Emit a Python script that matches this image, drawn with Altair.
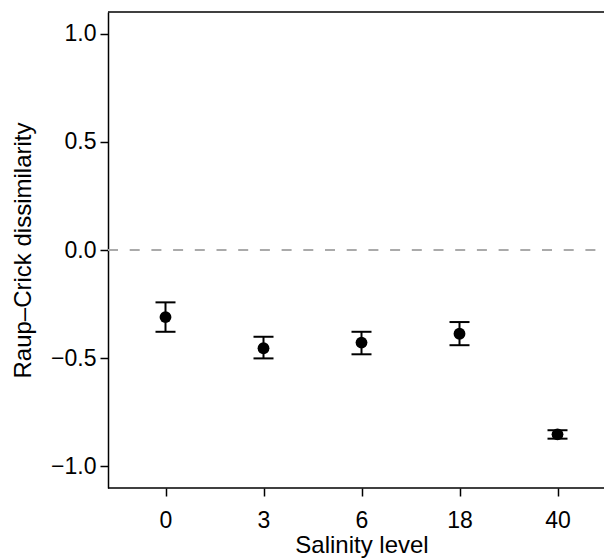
import altair as alt
import pandas as pd

salinity = ["0", "3", "6", "18", "40"]
mean = [-0.31, -0.454, -0.428, -0.387, -0.852]
lower = [-0.378, -0.501, -0.482, -0.440, -0.872]
upper = [-0.242, -0.401, -0.378, -0.333, -0.833]

df = pd.DataFrame({"salinity": salinity, "mean": mean, "lower": lower, "upper": upper})

W, H = 496, 476
FONT = "Liberation Sans"

xscale = alt.Scale(type="point", domain=salinity, range=[57.5, 449.5], padding=0)
yscale = alt.Scale(domain=[-1.1, 1.1], nice=False, zero=False)

xaxis = alt.Axis(title="Salinity level", domain=False, labelAngle=0, labelPadding=13, titlePadding=1,
                 labelFontSize=23, titleFontSize=24)
yaxis = alt.Axis(title="Raup\u2013Crick dissimilarity", values=[-1, -0.5, 0, 0.5, 1], format=".1f",
                 titlePadding=15, labelPadding=4, labelFontSize=23, titleFontSize=24)

base = alt.Chart(df)

bars = base.mark_rule(color="black", strokeWidth=2).encode(
    x=alt.X("salinity:N", scale=xscale, axis=xaxis, sort=salinity),
    y=alt.Y("lower:Q", scale=yscale, axis=yaxis),
    y2="upper:Q",
)
cap_lo = base.mark_tick(color="black", size=20, thickness=2, opacity=1).encode(
    x=alt.X("salinity:N", scale=xscale, sort=salinity),
    y=alt.Y("lower:Q", scale=yscale),
)
cap_hi = base.mark_tick(color="black", size=20, thickness=2, opacity=1).encode(
    x=alt.X("salinity:N", scale=xscale, sort=salinity),
    y=alt.Y("upper:Q", scale=yscale),
)
pts = base.mark_circle(color="black", size=140, opacity=1).encode(
    x=alt.X("salinity:N", scale=xscale, sort=salinity),
    y=alt.Y("mean:Q", scale=yscale),
)

zero = alt.Chart(pd.DataFrame({"y": [0.0]})).mark_rule(
    color="#aaaaaa", strokeWidth=2, strokeDash=[10, 11.7]
).encode(y=alt.Y("y:Q", scale=yscale), x=alt.value(0), x2=alt.value(W))

frame_top = alt.Chart(pd.DataFrame({"a": [0]})).mark_rule(color="black", strokeWidth=1.5).encode(
    x=alt.value(0), x2=alt.value(W), y=alt.value(0))
frame_bot = alt.Chart(pd.DataFrame({"a": [0]})).mark_rule(color="black", strokeWidth=1.5).encode(
    x=alt.value(0), x2=alt.value(W), y=alt.value(H))

chart = alt.layer(zero, bars, cap_lo, cap_hi, pts, frame_top, frame_bot).properties(
    width=W, height=H,
    autosize=alt.AutoSizeParams(type="none"),
    padding={"left": 100, "top": 4, "right": 0, "bottom": 72},
).configure_view(strokeWidth=0).configure_axis(
    grid=False,
    labelFont=FONT, titleFont=FONT,
    labelColor="black", titleColor="black",
    titleFontWeight="normal",
    domainColor="black", domainWidth=1.5,
    tickColor="black", tickWidth=1.5, tickSize=8,
)

chart.save("out.html", embed_options={"renderer": "svg", "actions": False})
